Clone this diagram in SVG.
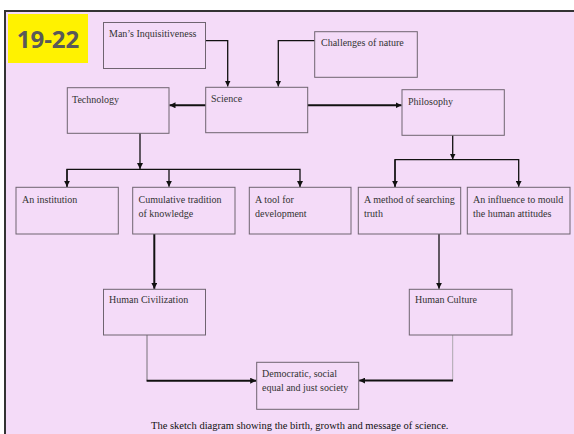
<svg xmlns="http://www.w3.org/2000/svg" width="574" height="434" viewBox="0 0 574 434">
<style>
.box{fill:none;stroke:#6f6470;stroke-width:1}
.t{font-family:"Liberation Serif","Times New Roman",serif;font-size:10px;fill:#333}
.c{fill:none;stroke:#111;stroke-width:1.3}
.ck{fill:none;stroke:#111;stroke-width:2}
.cl{fill:none;stroke:#555;stroke-width:0.8}
.cg{fill:none;stroke:#999;stroke-width:0.8}
</style>
<defs>
<marker id="ah" viewBox="0 0 10 10" refX="10" refY="5" markerWidth="6" markerHeight="6" markerUnits="userSpaceOnUse" orient="auto">
<path d="M0,0 L10,5 L0,10 z" fill="#111"/>
</marker>
</defs>
<rect x="0" y="0" width="574" height="434" fill="#fff"/>
<rect x="5" y="11" width="572" height="430" fill="#f4dbf8" stroke="#333" stroke-width="2"/>
<g id="label">
<rect x="8" y="14" width="80" height="49" fill="#fff200"/>
<text x="48" y="48" text-anchor="middle" font-family="'Open Sans','Liberation Sans',sans-serif" font-weight="bold" font-size="24" fill="#595959">19-22</text>
</g>
<g id="connectors">
<path class="c" d="M205.5,40.7 H227.7 V86.5" marker-end="url(#ah)"/>
<path class="c" d="M314.7,40.7 H278.3 V86.5" marker-end="url(#ah)"/>
<path class="ck" d="M205.7,105.3 H169.5" marker-end="url(#ah)"/>
<path class="ck" d="M307.7,105.3 H401.5" marker-end="url(#ah)"/>
<path class="c" d="M140,133.3 V169" marker-end="url(#ah)"/>
<path class="c" d="M67,187 V169.3 H300 V187" marker-end="url(#ah)"/>
<path class="c" d="M67,169.3 V186.8" marker-end="url(#ah)"/>
<path class="c" d="M169,169.3 V186.8" marker-end="url(#ah)"/>
<path class="c" d="M452.7,135.3 V159.5" marker-end="url(#ah)"/>
<path class="c" d="M395,187 V159.7 H518.7 V186.8" marker-end="url(#ah)"/>
<path class="c" d="M395,159.7 V186.8" marker-end="url(#ah)"/>
<path class="ck" d="M154.3,234 V288.8" marker-end="url(#ah)"/>
<path class="c" d="M439,234 V288.8" marker-end="url(#ah)"/>
<path class="cl" d="M147,335 V380.7"/>
<path class="ck" d="M146.6,380.7 H256.2" marker-end="url(#ah)"/>
<path class="cg" d="M452.7,335 V380.5"/>
<path class="ck" d="M453,380.5 H359.2" marker-end="url(#ah)"/>
</g>
<g id="mans">
<rect class="box" x="103.5" y="22.5" width="102" height="46"/>
<text class="t" x="109" y="37">Man’s Inquisitiveness</text>
</g>
<g id="challenges">
<rect class="box" x="314.7" y="31.7" width="102.6" height="45.6"/>
<text class="t" x="321" y="46">Challenges of nature</text>
</g>
<g id="technology">
<rect class="box" x="67.3" y="87.7" width="101.7" height="45.6"/>
<text class="t" x="72" y="103">Technology</text>
</g>
<g id="science">
<rect class="box" x="205.7" y="87.3" width="102" height="45.4"/>
<text class="t" x="211" y="102">Science</text>
</g>
<g id="philosophy">
<rect class="box" x="402" y="89.7" width="102.3" height="45.6"/>
<text class="t" x="408" y="105">Philosophy</text>
</g>
<g id="institution">
<rect class="box" x="16" y="187.3" width="102.3" height="46.7"/>
<text class="t" x="22" y="203">An institution</text>
</g>
<g id="cumulative">
<rect class="box" x="132.7" y="187.3" width="102.3" height="46.7"/>
<text class="t" x="138.5" y="203">Cumulative tradition</text>
<text class="t" x="138.5" y="217">of knowledge</text>
</g>
<g id="tool">
<rect class="box" x="249.3" y="187.3" width="101.7" height="46.7"/>
<text class="t" x="255" y="203">A tool for</text>
<text class="t" x="255" y="217">development</text>
</g>
<g id="method">
<rect class="box" x="358.3" y="187.3" width="102.4" height="46.7"/>
<text class="t" x="364" y="203">A method of searching</text>
<text class="t" x="364" y="217">truth</text>
</g>
<g id="influence">
<rect class="box" x="467.3" y="187.3" width="102.7" height="46.7"/>
<text class="t" x="473" y="203">An influence to mould</text>
<text class="t" x="473" y="217">the human attitudes</text>
</g>
<g id="civilization">
<rect class="box" x="103.5" y="289.3" width="102" height="45.7"/>
<text class="t" x="109" y="303">Human Civilization</text>
</g>
<g id="culture">
<rect class="box" x="409.3" y="289.3" width="102.7" height="45.7"/>
<text class="t" x="415" y="303">Human Culture</text>
</g>
<g id="democratic">
<rect class="box" x="256.7" y="362.3" width="102" height="47"/>
<text class="t" x="262" y="376.5">Democratic, social</text>
<text class="t" x="262" y="391">equal and just society</text>
</g>
<text x="151" y="429" font-family="'Liberation Serif','Times New Roman',serif" font-size="10.5" fill="#111">The sketch diagram showing the birth, growth and message of science.</text>
</svg>
